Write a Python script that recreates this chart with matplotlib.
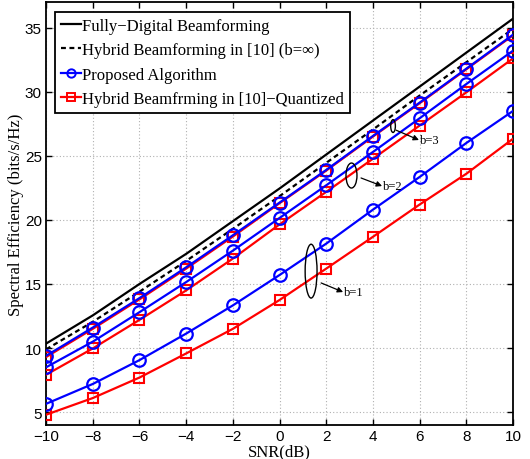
import matplotlib
matplotlib.use("Agg")
import matplotlib.pyplot as plt
from matplotlib.patches import Ellipse
from matplotlib.lines import Line2D

snr = [-10, -8, -6, -4, -2, 0, 2, 4, 6, 8, 10]
fully_digital = [10.35, 12.55, 15.0, 17.35, 19.9, 22.45, 25.1, 27.75, 30.4, 33.05, 35.7]
hybrid_inf = [9.9, 12.05, 14.4, 16.8, 19.3, 21.85, 24.45, 27.05, 29.7, 32.3, 34.9]
prop_b3 = [9.4, 11.6, 13.9, 16.3, 18.8, 21.35, 23.9, 26.55, 29.15, 31.8, 34.45]
quant_b3 = [9.3, 11.5, 13.8, 16.2, 18.7, 21.3, 23.85, 26.5, 29.1, 31.75, 34.4]
prop_b2 = [8.5, 10.5, 12.8, 15.15, 17.6, 20.15, 22.7, 25.3, 27.93, 30.6, 33.2]
quant_b2 = [7.92, 9.97, 12.2, 14.5, 16.98, 19.65, 22.19, 24.77, 27.36, 29.95, 32.6]
prop_b1 = [5.65, 7.2, 9.06, 11.13, 13.33, 15.7, 18.15, 20.8, 23.35, 26.0, 28.5]
quant_b1 = [4.8, 6.1, 7.7, 9.58, 11.5, 13.75, 16.2, 18.68, 21.2, 23.6, 26.33]

xticks = [-10, -8, -6, -4, -2, 0, 2, 4, 6, 8, 10]
yticks = [5, 10, 15, 20, 25, 30, 35]

legend_labels = ["Fully\u2212Digital Beamforming",
                 "Hybrid Beamforming in [10] (b=\u221e)",
                 "Proposed Algorithm",
                 "Hybrid Beamfrming in [10]\u2212Quantized"]

serif = ["Liberation Serif", "DejaVu Serif"]
sans = ["Liberation Sans", "DejaVu Sans"]

fig = plt.figure(figsize=(5.3, 4.6), dpi=100)
ax = fig.add_axes([0.087, 0.074, 0.881, 0.9195])

lw = 1.6
ax.plot(snr, fully_digital, color="black", lw=lw, zorder=3)
ax.plot(snr, hybrid_inf, color="black", lw=lw, ls=(0, (2.2, 1.6)), zorder=3)
for q in (quant_b3, quant_b2, quant_b1):
    ax.plot(snr, q, color="red", lw=lw, marker="s", ms=7.5, mfc="none",
            mew=1.5, zorder=4)
for p in (prop_b3, prop_b2, prop_b1):
    ax.plot(snr, p, color="blue", lw=lw, marker="o", ms=9, mfc="none",
            mew=1.6, zorder=5)

ax.set_xlim(-10, 10)
ax.set_ylim(4, 37)
ax.set_xticks(xticks)
ax.set_yticks(yticks)
ax.set_xticklabels([str(t).replace("-", "\u2212") for t in xticks], family=sans, fontsize=11)
ax.set_yticklabels([str(t) for t in yticks], family=sans, fontsize=11)
ax.tick_params(direction="in", top=True, right=True, length=4, width=1, pad=3)
ax.grid(True, color="#b0b0b0", ls=(0, (1, 2)), lw=0.8)
for s in ax.spines.values():
    s.set_linewidth(1.3)

ax.set_xlabel("SNR(dB)", family=serif, fontsize=12, labelpad=0)
ax.set_ylabel("Spectral Efficiency (bits/s/Hz)", family=serif, fontsize=12, labelpad=1)

# annotations
ell_specs = [((4.86, 27.32), 0.2, 1.0), ((3.08, 23.46), 0.47, 1.95), ((1.35, 16.0), 0.51, 4.2)]
for (c, w, h) in ell_specs:
    ax.add_patch(Ellipse(c, w, h, fill=False, ec="black", lw=1.0, zorder=6))
arrows = [((4.99, 27.0), (5.97, 26.23), "b=3"),
          ((3.49, 23.27), (4.39, 22.64), "b=2"),
          ((1.78, 15.08), (2.72, 14.37), "b=1")]
for (start, end, txt) in arrows:
    ax.annotate("", xy=end, xytext=start,
                arrowprops=dict(arrowstyle="-|>", color="black", lw=0.9,
                                mutation_scale=8, shrinkA=0, shrinkB=0), zorder=6)
    ax.text(end[0] + 0.05, end[1], txt, family=serif, fontsize=9, ha="left", va="center", zorder=6)

handles = [Line2D([], [], color="black", lw=lw),
           Line2D([], [], color="black", lw=lw, ls=(0, (2.2, 1.6))),
           Line2D([], [], color="blue", lw=lw, marker="o", ms=6, mfc="none", mew=1.4),
           Line2D([], [], color="red", lw=lw, marker="s", ms=6, mfc="none", mew=1.4)]
leg = ax.legend(handles, legend_labels, loc="upper left", bbox_to_anchor=(0.019, 0.976),
                prop={"family": serif, "size": 12}, frameon=True, fancybox=False,
                edgecolor="black", framealpha=1, handlelength=1.2, handletextpad=0.1,
                borderpad=0.35, labelspacing=0.5, borderaxespad=0.0)
leg.get_frame().set_linewidth(1.3)
leg.set_zorder(10)

fig.savefig("out.png", dpi=100)
